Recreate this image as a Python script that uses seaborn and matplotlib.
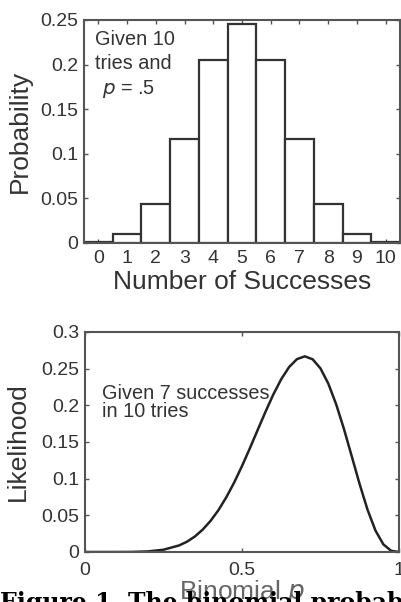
import numpy as np
import pandas as pd
import matplotlib
matplotlib.use("Agg")
import matplotlib.pyplot as plt
import seaborn as sns

# binomial probabilities, 10 tries, p = .5
successes = [0, 1, 2, 3, 4, 5, 6, 7, 8, 9, 10]
probability = [0.001, 0.0098, 0.044, 0.117, 0.205, 0.246, 0.205, 0.117, 0.044, 0.0098, 0.001]

# likelihood curve, 7 successes in 10 tries
binom_p = [0.0, 0.05, 0.1, 0.15, 0.2, 0.25, 0.3, 0.325, 0.35, 0.375, 0.4, 0.425,
           0.45, 0.475, 0.5, 0.525, 0.55, 0.575, 0.6, 0.625, 0.65, 0.675, 0.7,
           0.725, 0.75, 0.775, 0.8, 0.825, 0.85, 0.875, 0.9, 0.925, 0.95, 0.975, 1.0]
likelihood = [0.0, 0.0, 0.0, 0.0001, 0.0008, 0.0031, 0.009, 0.0141, 0.0212, 0.0306,
              0.0425, 0.0571, 0.0746, 0.0947, 0.1172, 0.1414, 0.1665, 0.1914, 0.215,
              0.2357, 0.2522, 0.263, 0.2668, 0.2628, 0.2503, 0.2295, 0.2013, 0.1673,
              0.1298, 0.092, 0.0574, 0.0293, 0.0105, 0.0016, 0.0]

top_yticks = [0, 0.05, 0.1, 0.15, 0.2, 0.25]
top_ylabels = ["0", "0.05", "0.1", "0.15", "0.2", "0.25"]
bot_yticks = [0, 0.05, 0.1, 0.15, 0.2, 0.25, 0.3]
bot_ylabels = ["0", "0.05", "0.1", "0.15", "0.2", "0.25", "0.3"]
bot_xticks = [0, 0.5, 1]
bot_xlabels = ["0", "0.5", "1"]

sns.set_style("white")
plt.rcParams["font.family"] = ["Liberation Sans", "DejaVu Sans"]

ink = "#333333"
fig = plt.figure(figsize=(4.01, 6.02), dpi=100)
ax1 = fig.add_axes([84 / 401, 1 - 243 / 602, 316 / 401, 223 / 602])
ax2 = fig.add_axes([85 / 401, 1 - 552 / 602, 314 / 401, 220 / 602])

df_bars = pd.DataFrame({"k": successes, "prob": probability})
sns.barplot(data=df_bars, x="k", y="prob", ax=ax1, color="white", width=1.0,
            edgecolor=ink, linewidth=1.6, saturation=1)
ax1.set_xlim(-0.5, 10.5)
ax1.set_ylim(0, 0.25)
ax1.set_yticks(top_yticks)
ax1.set_yticklabels(top_ylabels)
ax1.set_xticks(successes)
ax1.set_xticklabels([str(s) for s in successes])
ax1.set_xlabel("Number of Successes", fontsize=19, color=ink, va="center")
ax1.xaxis.set_label_coords(0.5, -0.175)
ax1.set_ylabel("Probability", fontsize=19, color=ink, va="center")
ax1.yaxis.set_label_coords(-0.2025, 0.5)
ax1.text(-0.12, 0.2276, "Given 10", fontsize=14.3, color=ink, va="center", ha="left")
ax1.text(-0.12, 0.2007, "tries and", fontsize=14.3, color=ink, va="center", ha="left")
ax1.text(0.12, 0.1726, r"$p$ = .5", fontsize=14.3, color=ink, va="center", ha="left")

df_line = pd.DataFrame({"p": binom_p, "L": likelihood})
sns.lineplot(data=df_line, x="p", y="L", ax=ax2, color="#222222", linewidth=1.8)
ax2.set_xlim(0, 1)
ax2.set_ylim(0, 0.3)
ax2.set_yticks(bot_yticks)
ax2.set_yticklabels(bot_ylabels)
ax2.set_xticks(bot_xticks)
ax2.set_xticklabels(bot_xlabels)
ax2.set_xlabel(r"Binomial $p$", fontsize=19, color="#666666", va="center")
ax2.xaxis.set_label_coords(0.5, -0.182)
ax2.set_ylabel("Likelihood", fontsize=19, color=ink, va="center")
ax2.yaxis.set_label_coords(-0.213, 0.5)
ax2.text(0.054, 0.2168, "Given 7 successes", fontsize=14.3, color=ink, va="center", ha="left")
ax2.text(0.054, 0.191, "in 10 tries", fontsize=14.3, color=ink, va="center", ha="left")

for ax in (ax1, ax2):
    for s in ax.spines.values():
        s.set_visible(True)
        s.set_color("#555555")
        s.set_linewidth(1.5)
    ax.tick_params(direction="in", length=3, width=1, colors="#555555",
                   labelcolor=ink, labelsize=14, top=True, right=True,
                   left=True, bottom=True, labeltop=False, labelright=False)
    ax.tick_params(axis="y", pad=4)
    ax.tick_params(axis="x", pad=5)

ax2.tick_params(axis="x", pad=7)

# caption of the scanned figure, cut off by the bottom edge
fig.text(0.0, 1 - 610 / 602, "Figure 1. The binomial probability",
         fontsize=17, fontweight="bold", family=["DejaVu Serif"], color="black",
         ha="left", va="baseline", zorder=10)

fig.savefig("out.png", dpi=100)
